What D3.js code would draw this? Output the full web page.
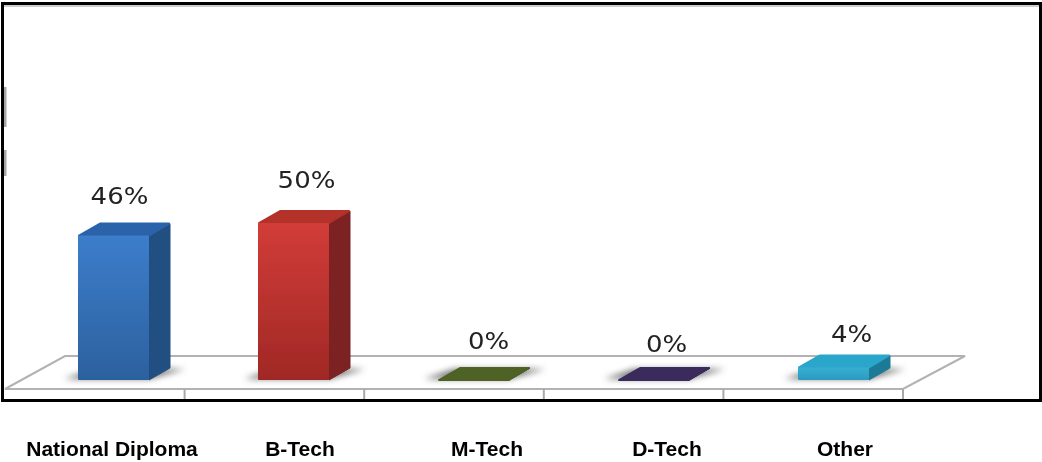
<!DOCTYPE html>
<html><head><meta charset="utf-8">
<script src="https://cdn.jsdelivr.net/npm/d3@7/dist/d3.min.js"></script>
<style>html,body{margin:0;padding:0;background:#fff;overflow:hidden}svg{display:block}</style>
</head><body><svg id="c" width="1042" height="462"></svg>
<script>
const categories = ["National Diploma","B-Tech","M-Tech","D-Tech","Other"];
const values = [46,50,0,0,4];
const valueLabels = ["46%","50%","0%","0%","4%"];
const frontTop = ["#3c7dca","#d23c38","#4f6228","#3a2a5c","#35aed2"];
const frontBottom = ["#2c619f","#a02825","#4f6228","#3a2a5c","#2a9cc0"];
const sideColors = ["#234f82","#7b2320","#3f4f20","#2e2249","#1c7a96"];
const topColors = ["#2a63aa","#b3302c","#4f6228","#3a2a5c","#2ba6cb"];

const svg = d3.select("#c");
const defs = svg.append("defs");
defs.append("filter").attr("id","soft").attr("x","-10%").attr("y","-10%").attr("width","120%").attr("height","120%")
  .append("feGaussianBlur").attr("stdDeviation",0.7);
defs.append("filter").attr("id","shadow").attr("x","-30%").attr("y","-80%").attr("width","160%").attr("height","260%")
  .append("feGaussianBlur").attr("stdDeviation",3);
defs.append("filter").attr("id","tinyblur").attr("x","-5%").attr("y","-20%").attr("width","110%").attr("height","140%")
  .append("feGaussianBlur").attr("stdDeviation",0.4);
categories.forEach((c,i)=>{
  const g = defs.append("linearGradient").attr("id","g"+i).attr("x1",0).attr("y1",0).attr("x2",0).attr("y2",1);
  g.append("stop").attr("offset",0).attr("stop-color",frontTop[i]);
  g.append("stop").attr("offset",1).attr("stop-color",frontBottom[i]);
});

const x = d3.scaleBand().domain(categories).range([78,869]).paddingInner(109/180).paddingOuter(0);
const y = d3.scaleLinear().domain([0,50]).range([380,223]);
const ticks = d3.scalePoint().domain(d3.range(6)).range([5,903]);
const dx = 22, dy = -13, w = x.bandwidth();

// remnants of the value axis
svg.append("line").attr("x1",5).attr("x2",5).attr("y1",87).attr("y2",127).attr("stroke","#a6a6a6").attr("stroke-width",3);
svg.append("line").attr("x1",5).attr("x2",5).attr("y1",150).attr("y2",176).attr("stroke","#a6a6a6").attr("stroke-width",3);
svg.append("line").attr("x1",3).attr("x2",1040).attr("y1",6).attr("y2",6).attr("stroke","#cccccc").attr("stroke-width",2);

// floor
const floor = svg.append("g");
floor.append("path").attr("d","M5,389 L65,356 L965,356 L903,389 Z")
  .attr("fill","#fff").attr("stroke","#b2b2b2").attr("stroke-width",2);
floor.selectAll("line.t").data(ticks.domain().slice(1)).join("line").attr("class","t")
  .attr("x1",d=>ticks(d)).attr("x2",d=>ticks(d)).attr("y1",389).attr("y2",400)
  .attr("stroke","#a8a8a8").attr("stroke-width",2);

// bars
const bars = svg.selectAll("g.bar").data(categories).join("g").attr("class","bar");
bars.append("path").attr("filter","url(#shadow)").attr("fill","#5a5a5a").attr("opacity",.85)
  .attr("d",c=>{const l=x(c),b=y(0);return `M${l-14},${b-1} L${l+w},${b-1} L${l+w+dx+14},${b+dy+2} L${l+dx-6},${b+dy+2} Z`;});
bars.each(function(c,i){
  const g=d3.select(this).append("g").attr("filter","url(#soft)");
  const l=x(c), r=l+w, t=y(values[i]), b=y(0);
  g.append("path").attr("fill",sideColors[i]).attr("stroke",sideColors[i]).attr("stroke-linejoin","round")
    .attr("d",`M${r},${t} L${r+dx-1},${t+dy+1} L${r+dx-1},${b+dy+1} L${r},${b} Z`);
  g.append("path").attr("fill",topColors[i]).attr("stroke",topColors[i]).attr("stroke-linejoin","round").attr("stroke-width",2)
    .attr("d",`M${l+1},${t} L${l+dx},${t+dy+1} L${r+dx-2},${t+dy+1} L${r},${t} Z`);
  g.append("rect").attr("x",l).attr("y",t).attr("width",w).attr("height",b-t).attr("rx",1).attr("fill",`url(#g${i})`);
});

// value labels
const labelNudge = [[6,-32],[13,-35],[15,-31],[13,-28],[18,-25]];
svg.selectAll("text.v").data(valueLabels).join("text").attr("class","v")
  .attr("text-anchor","middle").attr("font-family","'DejaVu Sans'").attr("font-size",23).attr("fill","#222")
  .attr("filter","url(#tinyblur)")
  .attr("transform",(d,i)=>{
    const c=categories[i];
    return `translate(${x(c)+w/2+labelNudge[i][0]},${y(values[i])+labelNudge[i][1]}) scale(1.13,1)`;
  }).text(d=>d);

// category labels
const catCenters = [112,300,487,667,845];
svg.selectAll("text.c").data(categories).join("text").attr("class","c")
  .attr("text-anchor","middle").attr("font-family","'Liberation Sans'").attr("font-weight","bold")
  .attr("font-size",21).attr("fill","#000").attr("filter","url(#tinyblur)")
  .attr("x",(d,i)=>catCenters[i]).attr("y",456).text(d=>d);

// frame
svg.append("rect").attr("x",2.5).attr("y",3.5).attr("width",1038).attr("height",397)
  .attr("fill","none").attr("stroke","#000").attr("stroke-width",3);
</script></body></html>
